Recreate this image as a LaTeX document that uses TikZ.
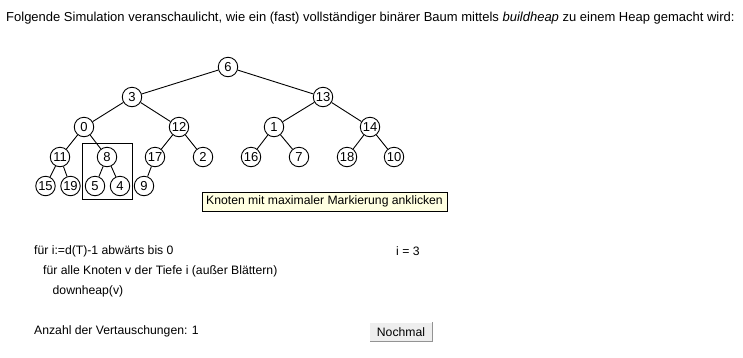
\documentclass[tikz,border=0pt]{standalone}
\usepackage{fontspec}
\setmainfont{Liberation Sans}
\begin{document}
\begin{tikzpicture}[x=1pt,y=-1pt,
  knot/.style={circle,draw,line width=0.9pt,minimum size=19.5pt,inner sep=0pt,font=\fontsize{13}{13}\selectfont},
  txt/.style={anchor=west,inner sep=0pt,font=\fontsize{12.2}{13}\selectfont},
  edge/.style={line width=0.9pt}]
\useasboundingbox (0,0) rectangle (743,357);
\fill[white] (0,0) rectangle (743,357);

% heading
\node[txt,font=\fontsize{13}{14}\selectfont] (head) at (6,18)
  {Folgende Simulation veranschaulicht, wie ein (fast) vollständiger binärer Baum mittels \textit{buildheap} zu einem Heap gemacht wird:};

% tree nodes
\node[knot] (n6)  at (228,67) {6};
\node[knot] (n3)  at (132,97) {3};
\node[knot] (n13) at (323,97) {13};
\node[knot] (n0)  at (84,127) {0};
\node[knot] (n12) at (179,127) {12};
\node[knot] (n1)  at (274,127) {1};
\node[knot] (n14) at (370,127) {14};
\node[knot] (n11) at (60,157) {11};
\node[knot] (n8)  at (107,157) {8};
\node[knot] (n17) at (155,157) {17};
\node[knot] (n2)  at (203,157) {2};
\node[knot] (n16) at (251,157) {16};
\node[knot] (n7)  at (299,157) {7};
\node[knot] (n18) at (347,157) {18};
\node[knot] (n10) at (394,157) {10};
\node[knot] (n15) at (45.5,186) {15};
\node[knot] (n19) at (70.5,186) {19};
\node[knot] (n5)  at (95,186) {5};
\node[knot] (n4)  at (120,186) {4};
\node[knot] (n9)  at (144,186) {9};

% tree edges
\foreach \a/\b in {n6/n3,n6/n13,n3/n0,n3/n12,n13/n1,n13/n14,n0/n11,n0/n8,
                   n12/n17,n12/n2,n1/n16,n1/n7,n14/n18,n14/n10,
                   n11/n15,n11/n19,n8/n5,n8/n4,n17/n9}
  \draw[edge] (\a) -- (\b);

% subtree currently being processed
\draw[line width=0.9pt] (82.5,143.5) rectangle (132.5,199.5);

% hint box
\node[draw,line width=0.9pt,fill={rgb,255:red,255;green,255;blue,225},
      minimum width=245pt,minimum height=19.5pt,inner sep=0pt,
      font=\fontsize{12.2}{13}\selectfont] (hint) at (324.5,201.75)
  {Knoten mit maximaler Markierung anklicken};

% pseudocode
\node[txt] (l1) at (34,251) {für i:=d(T)-1 abwärts bis 0};
\node[txt] (l2) at (43,271.5) {für alle Knoten v der Tiefe i (außer Blättern)};
\node[txt] (l3) at (52.5,291.5) {downheap(v)};
\node[txt] (ival) at (396,251) {i = 3};
\node[txt] (cnt) at (34,331) {Anzahl der Vertauschungen: 1};

% button with a raised edge
\node[fill={rgb,255:red,238;green,238;blue,238},minimum width=62pt,minimum height=19pt,
      inner sep=0pt,font=\fontsize{12.2}{13}\selectfont] (btn) at (401,332) {Nochmal};
\draw[white,line width=1pt] (btn.south west) -- (btn.north west) -- (btn.north east);
\draw[gray!85,line width=1.2pt] (btn.north east) -- (btn.south east) -- (btn.south west);
\end{tikzpicture}
\end{document}
